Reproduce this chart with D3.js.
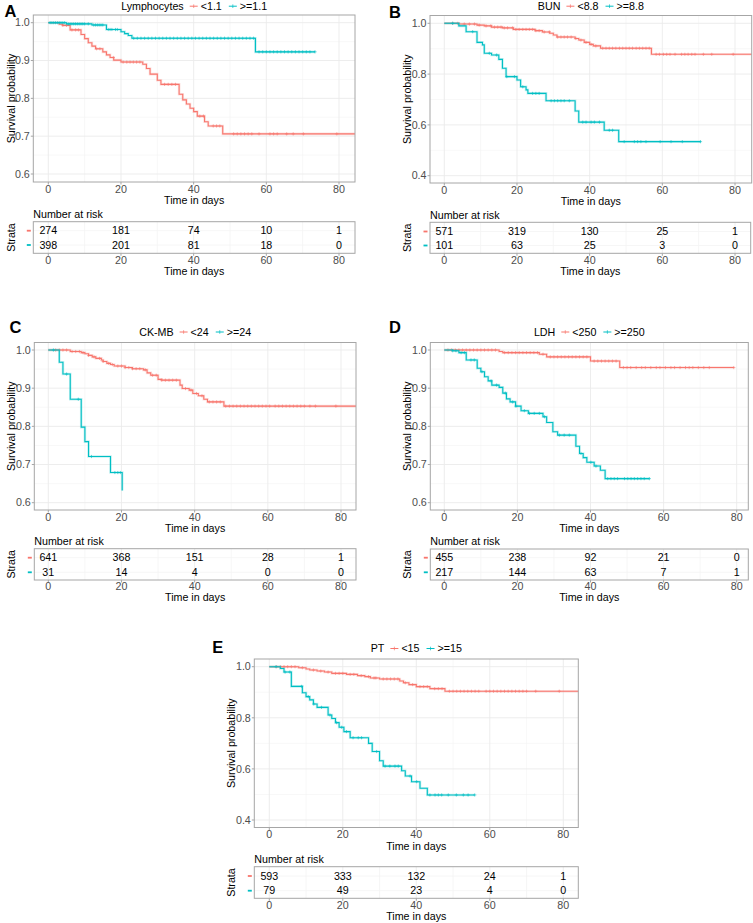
<!DOCTYPE html>
<html><head><meta charset="utf-8">
<script src="https://cdn.jsdelivr.net/npm/d3@7"></script>
<style>body{margin:0;background:#fff} svg{display:block} text{font-family:"Liberation Sans",Arial,sans-serif}</style>
</head><body><svg id="c" width="753" height="923"></svg>
<script>
// ---------------- DATA ----------------
const xTicks = [0, 20, 40, 60, 80];
const riskTimes = [0, 20, 40, 60, 80];

// Panel A: Lymphocytes
const aTitle = "Lymphocytes";
const aLabels = ["<1.1", ">=1.1"];
const aRedSteps = [[0,1],[3,0.996],[4,0.993],[6,0.981],[9,0.969],[10,0.958],[11,0.947],[12,0.938],[13,0.931],[15,0.923],[16,0.915],[17,0.908],[18,0.901],[20,0.896],[26,0.890],[27,0.879],[28,0.864],[30,0.848],[31,0.837],[36,0.811],[37,0.796],[38,0.785],[39,0.774],[40,0.765],[41,0.753],[43,0.738],[44,0.727],[48,0.706]];
const aRedEnd = 90;
const aRedCensor = [4,5,6.5,7.5,8.3,13.3,14.2,17.9,20.6,21.6,22.5,23.4,24.3,25.2,32,33,34,35,41.7,42.7,45.4,46.3,47.2,51,52,53,54,55,56,58,61,62,63,65.6,67.4,70.2,79.4];
const aCyanSteps = [[0,1],[5,0.997],[12,0.994],[16,0.982],[20,0.976],[21,0.971],[22,0.966],[23,0.959],[57,0.923]];
const aCyanEnd = 73.4;
const aCyanCensor = [0.5,1,1.5,2,2.5,3,3.5,4,4.5,5.5,6,6.5,7,7.5,8,8.5,9,9.5,10,11,12.5,13,13.5,14,14.5,15,16.5,17,17.5,18.5,19,23.5,24.5,25.5,26.5,27.5,28.5,29.5,30.5,31.5,32.5,33.5,34.5,35.5,36.5,37.5,38.5,39.5,40.5,41.5,42.5,43.5,44.5,45.5,46.5,47.5,48.5,49.5,50.5,51.5,52.5,53.5,54.5,55.5,56.5,58,59,60,61,62,63,64,65,66,67,68,69,70,71,72,73.4];
const aRisk = [[274,181,74,10,1],[398,201,81,18,0]];
const aYTicks = [0.6,0.7,0.8,0.9,1.0];

// Panel B: BUN
const bTitle = "BUN";
const bLabels = ["<8.8", ">=8.8"];
const bRedSteps = [[0,1],[4,0.997],[9,0.993],[11,0.99],[13,0.985],[16,0.982],[19,0.976],[25,0.971],[27,0.966],[29,0.961],[30,0.954],[31,0.946],[36,0.94],[37,0.934],[38.5,0.925],[40,0.917],[41,0.911],[43,0.902],[57,0.878]];
const bRedEnd = 90;
const bRedCensor = [2.3,3.7,5.5,6.9,8.3,9.6,11.5,12.8,13.8,14.7,15.6,16.5,17.4,18.8,19.7,20.6,21.6,22.5,23.4,24.3,25.2,26.1,27.5,28.9,31.2,32.1,33,33.9,34.9,36.2,37.6,39,40.4,41.7,43.6,44.5,45.4,46.3,47.2,48.2,49.1,50,50.9,51.8,52.8,53.7,54.6,55.5,56.4,58.3,59.2,60.3,61.2,62.1,63.5,65.3,66.2,67.1,68.1,69,71.3,73.6,79.5];
const bCyanSteps = [[0,1],[4,0.99],[6,0.967],[9,0.925],[10.5,0.915],[11,0.882],[13,0.875],[15,0.858],[16,0.823],[17,0.79],[20,0.777],[21,0.75],[22.5,0.738],[23,0.724],[28,0.695],[36,0.655],[37,0.611],[44,0.579],[48,0.534]];
const bCyanEnd = 70.5;
const bCyanCensor = [2.3,7.8,12.4,14.4,17.2,19.3,21.6,24.3,25.2,26.1,29.4,30.3,31.2,32.1,33,34.4,38.1,39,40.4,41.3,42.7,45.4,46.3,49.5,52.3,53.2,54.1,55.5,59.4,62.4,65.5,70.5];
const bRisk = [[571,319,130,25,1],[101,63,25,3,0]];
const bYTicks = [0.4,0.6,0.8,1.0];

// Panel C: CK-MB
const cTitle = "CK-MB";
const cLabels = ["<24", ">=24"];
const cRedSteps = [[0,1],[6,0.996],[9,0.993],[10,0.99],[11,0.986],[12,0.982],[13,0.978],[14.5,0.974],[15,0.97],[16,0.965],[17,0.962],[18,0.958],[21,0.954],[23,0.951],[26,0.948],[27,0.94],[28,0.934],[30,0.923],[31,0.921],[36,0.908],[36.6,0.899],[38.5,0.895],[39.5,0.886],[41,0.88],[42.5,0.871],[43.5,0.864],[48,0.853]];
const cRedEnd = 90;
const cRedCensor = [2,3,4,5,6.5,7.5,8.5,9.5,11,12.5,14,15,16.5,17.5,19,20,21,22,23,24,25,26.5,28.5,29.5,31,32,33,34,35,37.5,39,40.5,42,44,45,46,47,48.5,49.5,50.5,51.5,52.5,53.5,54.5,55.5,56.5,57.5,58.5,59.5,60.5,62,63,64,65,66,67,68,69,70,71.5,73,78.6];
const cCyanSteps = [[0,1],[3,0.968],[4,0.937],[6,0.871],[9,0.798],[10,0.76],[11,0.721],[17,0.679],[20.2,0.632]];
const cCyanEnd = 20.2;
const cCyanCensor = [1.4,5,8.2,11.8,18.2,19,19.7];
const cRisk = [[641,368,151,28,1],[31,14,4,0,0]];
const cYTicks = [0.6,0.7,0.8,0.9,1.0];

// Panel D: LDH
const dTitle = "LDH";
const dLabels = ["<250", ">=250"];
const dRedSteps = [[0,1],[15,0.996],[16,0.993],[26,0.989],[28,0.982],[40,0.971],[48,0.954]];
const dRedEnd = 79.2;
const dRedCensor = [1,2,3,4,5,6,7,8,9,10,11,12,13,14,16.5,17.5,18.5,19.5,20.5,21.5,22.5,23.5,24.5,25.5,27,29,30,31,32,33,34,35,36,37,38,39,41,42,43,44,45,46,47,49,50,51,52.5,54,55,56.5,58,59,60.5,62,63,64.5,66,67,68,69.5,71,72.5,79.2];
const dCyanSteps = [[0,1],[2.3,0.998],[4,0.993],[6,0.974],[9,0.952],[10,0.943],[11,0.93],[12,0.919],[13,0.908],[15,0.902],[16,0.887],[17,0.872],[18,0.864],[19.5,0.853],[21,0.841],[23,0.834],[27,0.825],[28,0.81],[29.7,0.786],[31,0.777],[36,0.748],[37,0.729],[38,0.718],[39,0.706],[41,0.696],[42.7,0.685],[44,0.663]];
const dCyanEnd = 56.1;
const dCyanCensor = [2.3,3.2,4.6,5.5,7.3,8.2,10.3,12.8,14.3,16.7,18.7,19.6,21.9,23.3,24.6,26,27.4,31.5,32.8,34.2,37.4,40.1,41.5,44.7,45.6,46.5,47.4,49.3,50.2,51.1,52,52.9,53.8,54.7,56.1];
const dRisk = [[455,238,92,21,0],[217,144,63,7,1]];
const dYTicks = [0.6,0.7,0.8,0.9,1.0];

// Panel E: PT
const eTitle = "PT";
const eLabels = ["<15", ">=15"];
const eRedSteps = [[0,1],[8,0.996],[10,0.991],[11,0.987],[13,0.983],[15,0.979],[17,0.974],[21,0.97],[24,0.965],[26,0.961],[27.5,0.956],[30,0.952],[35.5,0.944],[36.5,0.937],[38,0.93],[40,0.922],[43.7,0.914],[47.8,0.904]];
const eRedEnd = 90;
const eRedCensor = [2,3,4,5,6,7,9,12,14,16,18,19,20,22,23,25,27,28.5,29,31,32,33,34,35,37,39,41,42,43,45,46,47,49,50,51,52,53,54,55,56,57,59,60,61,62,63,64,65,66,67,68,69,70,72.5,78.9];
const eCyanSteps = [[0,1],[3,0.993],[4,0.979],[6,0.923],[9,0.898],[10,0.883],[11,0.87],[12,0.854],[13,0.841],[16,0.811],[17,0.797],[18,0.781],[19,0.763],[20.3,0.746],[22,0.722],[27,0.7],[28,0.668],[30,0.632],[31,0.611],[36,0.593],[37,0.572],[38.7,0.55],[41,0.524],[43,0.498]];
const eCyanEnd = 55.9;
const eCyanCensor = [1.8,4.3,5.6,8.8,10.6,12.1,14.2,16.5,18.3,19.7,21,22.8,24.2,25.1,29.2,31.5,32.8,34.2,35.1,38.3,40.1,43.7,45.1,46,46.9,48.7,50.9,52.8,54.1,55.9];
const eRisk = [[593,333,132,24,1],[79,49,23,4,0]];
const eYTicks = [0.4,0.6,0.8,1.0];

// ---------------- DRAWING ----------------
const RED = "#F8766D", CYAN = "#00BFC4";
const FS = 10.7;
const svg = d3.select("#c");
const GRID = "#ebebeb", GRIDMIN = "#f4f4f4", BORDER = "#a6a6a6", TICKTXT = "#4d4d4d";

function stepAt(steps, t) { let s = 1; for (const [tt, ss] of steps) { if (tt <= t) s = ss; else break; } return s; }

let clipId = 0;
function drawPanel(L, D) {
  const g = svg.append("g");
  const [bx1, by1, bx2, by2] = L.box;
  const x = d3.scaleLinear().domain([0, 80]).range([L.x0, L.x80]);
  const y = d3.scaleLinear().domain([L.yMin, 1]).range([L.yAtMin, L.yAt1]);
  const yHi = y.invert(by1);

  g.append("text").attr("x", L.lx).attr("y", L.ly).attr("font-size", 16.5).attr("font-weight", "bold").text(L.letter);

  const minorX = [10, 30, 50, 70];
  const yStep = L.yTicks[1] - L.yTicks[0];
  const minorY = L.yTicks.map(v => v + yStep / 2).filter(v => v < yHi);
  g.selectAll(null).data(minorX).join("line").attr("x1", d => x(d)).attr("x2", d => x(d)).attr("y1", by1).attr("y2", by2).attr("stroke", GRIDMIN).attr("stroke-width", 0.6);
  g.selectAll(null).data(minorY).join("line").attr("y1", d => y(d)).attr("y2", d => y(d)).attr("x1", bx1).attr("x2", bx2).attr("stroke", GRIDMIN).attr("stroke-width", 0.6);
  g.selectAll(null).data(xTicks).join("line").attr("x1", d => x(d)).attr("x2", d => x(d)).attr("y1", by1).attr("y2", by2).attr("stroke", GRID).attr("stroke-width", 0.9);
  g.selectAll(null).data(L.yTicks).join("line").attr("y1", d => y(d)).attr("y2", d => y(d)).attr("x1", bx1).attr("x2", bx2).attr("stroke", GRID).attr("stroke-width", 0.9);

  const cid = "clip" + (clipId++);
  svg.append("clipPath").attr("id", cid).append("rect").attr("x", bx1).attr("y", by1).attr("width", bx2 - bx1).attr("height", by2 - by1);
  const cg = g.append("g").attr("clip-path", `url(#${cid})`);
  const line = d3.line().x(d => x(d[0])).y(d => y(d[1])).curve(d3.curveStepAfter);
  D.curves.forEach(c => {
    const pts = c.steps.concat([[c.end, c.steps[c.steps.length - 1][1]]]);
    cg.append("path").attr("d", line(pts)).attr("fill", "none").attr("stroke", c.color).attr("stroke-width", 2.6).attr("stroke-opacity", 0.22);
    cg.append("path").attr("d", line(pts)).attr("fill", "none").attr("stroke", c.color).attr("stroke-width", 1.1);
    const cs = cg.append("g").attr("stroke", c.color).attr("stroke-width", 0.7).attr("stroke-opacity", 0.85);
    c.censor.forEach(t => {
      const px = x(t), py = y(stepAt(c.steps, t));
      cs.append("line").attr("x1", px - 1.6).attr("x2", px + 1.6).attr("y1", py).attr("y2", py);
      cs.append("line").attr("x1", px).attr("x2", px).attr("y1", py - 1.6).attr("y2", py + 1.6);
    });
  });

  g.append("rect").attr("x", bx1).attr("y", by1).attr("width", bx2 - bx1).attr("height", by2 - by1).attr("fill", "none").attr("stroke", BORDER).attr("stroke-width", 1);

  g.selectAll(null).data(L.yTicks).join("line").attr("x1", bx1 - 2.5).attr("x2", bx1).attr("y1", d => y(d)).attr("y2", d => y(d)).attr("stroke", BORDER);
  g.selectAll(null).data(L.yTicks).join("text").attr("x", bx1 - 3.5).attr("y", d => y(d)).attr("dy", "0.35em").attr("text-anchor", "end").attr("font-size", FS).attr("fill", TICKTXT).text(d => d3.format(".1f")(d));
  g.selectAll(null).data(xTicks).join("line").attr("x1", d => x(d)).attr("x2", d => x(d)).attr("y1", by2).attr("y2", by2 + 2.5).attr("stroke", BORDER);
  g.selectAll(null).data(xTicks).join("text").attr("x", d => x(d)).attr("y", by2 + 7).attr("dy", "0.35em").attr("text-anchor", "middle").attr("font-size", FS).attr("fill", TICKTXT).text(d => d);
  g.append("text").attr("x", (bx1 + bx2) / 2).attr("y", by2 + 18.5).attr("dy", "0.35em").attr("text-anchor", "middle").attr("font-size", FS).text("Time in days");
  g.append("text").attr("transform", `translate(${L.yTitleX},${(by1 + by2) / 2}) rotate(-90)`).attr("dy", "0.35em").attr("text-anchor", "middle").attr("font-size", FS).text("Survival probability");

  // legend
  const lg = g.append("g");
  const ly = Math.max(by1 - 10.5, 6.2);
  let cx = 0;
  const t0 = lg.append("text").attr("x", cx).attr("y", ly).attr("dy", "0.35em").attr("font-size", FS).text(D.title);
  cx += t0.node().getComputedTextLength() + 6;
  D.labels.forEach((lab, i) => {
    const col = D.curves[i].color;
    lg.append("line").attr("x1", cx).attr("x2", cx + 8).attr("y1", ly).attr("y2", ly).attr("stroke", col).attr("stroke-width", 1);
    lg.append("line").attr("x1", cx + 4).attr("x2", cx + 4).attr("y1", ly - 1.8).attr("y2", ly + 1.8).attr("stroke", col).attr("stroke-width", 0.7);
    cx += 11;
    const tt = lg.append("text").attr("x", cx).attr("y", ly).attr("dy", "0.35em").attr("font-size", FS).text(lab);
    cx += tt.node().getComputedTextLength() + 7;
  });
  const lw = cx - 7;
  lg.attr("transform", `translate(${(bx1 + bx2) / 2 - lw / 2},0)`);

  // risk table
  const [rx1, ry1, rx2, ry2] = L.risk;
  const rows = [L.r1, L.r2];
  g.selectAll(null).data(minorX.concat(xTicks)).join("line").attr("x1", d => x(d)).attr("x2", d => x(d)).attr("y1", ry1).attr("y2", ry2).attr("stroke", d => d % 20 === 0 ? GRID : GRIDMIN).attr("stroke-width", 0.8);
  g.selectAll(null).data(rows).join("line").attr("x1", rx1).attr("x2", rx2).attr("y1", d => d).attr("y2", d => d).attr("stroke", GRIDMIN).attr("stroke-width", 0.8);
  g.append("rect").attr("x", rx1).attr("y", ry1).attr("width", rx2 - rx1).attr("height", ry2 - ry1).attr("fill", "none").attr("stroke", BORDER).attr("stroke-width", 1);
  g.append("text").attr("x", rx1).attr("y", ry1 - 7.5).attr("dy", "0.35em").attr("font-size", FS).text("Number at risk");
  D.risk.forEach((row, i) => {
    g.selectAll(null).data(row).join("text").attr("x", (d, j) => x(riskTimes[j])).attr("y", rows[i]).attr("dy", "0.35em").attr("text-anchor", "middle").attr("font-size", FS).text(d => d);
    g.append("rect").attr("x", rx1 - 6.5).attr("y", rows[i] - 0.9).attr("width", 4).attr("height", 1.8).attr("fill", D.curves[i].color);
  });
  g.selectAll(null).data(xTicks).join("line").attr("x1", d => x(d)).attr("x2", d => x(d)).attr("y1", ry2).attr("y2", ry2 + 2.5).attr("stroke", BORDER);
  g.selectAll(null).data(xTicks).join("text").attr("x", d => x(d)).attr("y", ry2 + 6.5).attr("dy", "0.35em").attr("text-anchor", "middle").attr("font-size", FS).attr("fill", TICKTXT).text(d => d);
  g.append("text").attr("x", (rx1 + rx2) / 2).attr("y", ry2 + 17.5).attr("dy", "0.35em").attr("text-anchor", "middle").attr("font-size", FS).text("Time in days");
  g.append("text").attr("transform", `translate(${L.yTitleX},${(ry1 + ry2) / 2}) rotate(-90)`).attr("dy", "0.35em").attr("text-anchor", "middle").attr("font-size", FS).text("Strata");
}

function mk(title, labels, rs, re, rc, cs, ce, cc, risk) {
  return { title, labels, risk, curves: [
    { steps: rs, end: re, censor: rc, color: RED },
    { steps: cs, end: ce, censor: cc, color: CYAN }] };
}

drawPanel({ letter: "A", lx: 4.5, ly: 16.8, box: [33.3, 15, 355, 182], x0: 48.3, x80: 339, yMin: 0.6, yAtMin: 174, yAt1: 22.7, yTicks: aYTicks, yTitleX: 10.8, risk: [33.3, 221.7, 355, 253.3], r1: 230.7, r2: 245 },
  mk(aTitle, aLabels, aRedSteps, aRedEnd, aRedCensor, aCyanSteps, aCyanEnd, aCyanCensor, aRisk));
drawPanel({ letter: "B", lx: 389, ly: 18.2, box: [430, 15.5, 751.7, 183], x0: 444.3, x80: 735, yMin: 0.4, yAtMin: 175.7, yAt1: 23.3, yTicks: bYTicks, yTitleX: 406.8, risk: [430, 222.3, 750.7, 253.3], r1: 231.5, r2: 245.5 },
  mk(bTitle, bLabels, bRedSteps, bRedEnd, bRedCensor, bCyanSteps, bCyanEnd, bCyanCensor, bRisk));
drawPanel({ letter: "C", lx: 9.5, ly: 333.3, box: [34.3, 342.5, 356, 510], x0: 48.3, x80: 341, yMin: 0.6, yAtMin: 502.7, yAt1: 350, yTicks: cYTicks, yTitleX: 10.8, risk: [34.3, 548.7, 356, 580], r1: 557.7, r2: 572.3 },
  mk(cTitle, cLabels, cRedSteps, cRedEnd, cRedCensor, cCyanSteps, cCyanEnd, cCyanCensor, cRisk));
drawPanel({ letter: "D", lx: 389, ly: 333.3, box: [430.3, 342.5, 748.3, 510], x0: 444.3, x80: 736.7, yMin: 0.6, yAtMin: 502.7, yAt1: 350, yTicks: dYTicks, yTitleX: 406.8, risk: [430.3, 549, 748.3, 580], r1: 557.7, r2: 572.3 },
  mk(dTitle, dLabels, dRedSteps, dRedEnd, dRedCensor, dCyanSteps, dCyanEnd, dCyanCensor, dRisk));
drawPanel({ letter: "E", lx: 212.3, ly: 653.3, box: [254.3, 659, 578.3, 827.5], x0: 269.3, x80: 563.3, yMin: 0.4, yAtMin: 820, yAt1: 666.7, yTicks: eYTicks, yTitleX: 230.8, risk: [254.3, 866.7, 578.3, 898.3], r1: 876, r2: 890.7 },
  mk(eTitle, eLabels, eRedSteps, eRedEnd, eRedCensor, eCyanSteps, eCyanEnd, eCyanCensor, eRisk));
</script></body></html>
